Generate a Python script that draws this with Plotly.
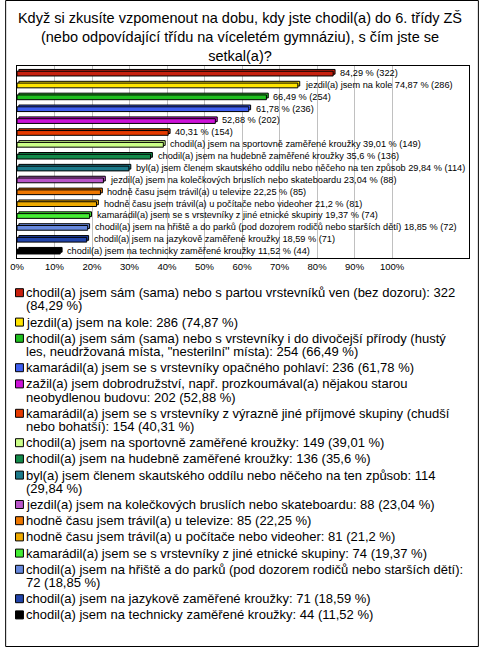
import plotly.graph_objects as go

# answers, in the order shown (top to bottom)
names = [
    "chodil(a) jsem sám (sama) nebo s partou vrstevníků ven (bez dozoru)",
    "jezdil(a) jsem na kole",
    "chodil(a) jsem sám (sama) nebo s vrstevníky i do divočejší přírody (hustý les, neudržovaná místa, \"nesterilní\" místa)",
    "kamarádil(a) jsem se s vrstevníky opačného pohlaví",
    "zažil(a) jsem dobrodružství, např. prozkoumával(a) nějakou starou neobydlenou budovu",
    "kamarádil(a) jsem se s vrstevníky z výrazně jiné příjmové skupiny (chudší nebo bohatší)",
    "chodil(a) jsem na sportovně zaměřené kroužky",
    "chodil(a) jsem na hudebně zaměřené kroužky",
    "byl(a) jsem členem skautského oddílu nebo něčeho na ten způsob",
    "jezdil(a) jsem na kolečkových bruslích nebo skateboardu",
    "hodně času jsem trávil(a) u televize",
    "hodně času jsem trávil(a) u počítače nebo videoher",
    "kamarádil(a) jsem se s vrstevníky z jiné etnické skupiny",
    "chodil(a) jsem na hřiště a do parků (pod dozorem rodičů nebo starších dětí)",
    "chodil(a) jsem na jazykově zaměřené kroužky",
    "chodil(a) jsem na technicky zaměřené kroužky",
]
counts = [322, 286, 254, 236, 202, 154, 149, 136, 114, 88, 85, 81, 74, 72, 71, 44]
percents = [84.29, 74.87, 66.49, 61.78, 52.88, 40.31, 39.01, 35.6, 29.84,
            23.04, 22.25, 21.2, 19.37, 18.85, 18.59, 11.52]
# whether the bar label repeats the answer text
label_has_name = [False, True, False, False, False, False, True, True, True,
                  True, True, True, True, True, True, True]
# where the legend text wraps onto a second line
legend_break = [
    "(84,29 %)", None, "les, ", None, "neobydlenou", "nebo bohatší", None, None,
    "(29,84 %)", None, None, None, None, "72 (18,85 %)", None, None,
]
colors = ["#C8200E", "#FFE400", "#1FBF1F", "#3F5FF0", "#CC12D8", "#E63A00",
          "#CCFF88", "#128A4A", "#1C7A8A", "#B855C8", "#EE7700", "#EEAA00",
          "#44EE33", "#6688DD", "#2244AA", "#000000"]

title = ("Když si zkusíte vzpomenout na dobu, kdy jste chodil(a) do 6. třídy ZŠ<br>"
         "(nebo odpovídající třídu na víceletém gymnáziu), s čím jste se<br>setkal(a)?")

W, H = 480, 647
ML, MR, MT, MB = 12, 10, 66, 389
FONT = "Liberation Sans, Arial, sans-serif"
pw = W - ML - MR
ph = H - MT - MB


def czpct(p):
    return f"{p:g}".replace(".", ",") + " %"


def px_x(px):
    return (px - ML) / pw


def px_y(py):
    return (H - MB - py) / ph


fig = go.Figure()
for i, (nm, c, p) in enumerate(zip(names, counts, percents)):
    # back face gives the flat 3D look of the original
    fig.add_trace(go.Bar(
        x=[p], y=[nm], orientation="h", base=0.5,
        marker=dict(color=colors[i], line=dict(color="#000000", width=1)),
        width=0.4, offset=-0.3, showlegend=False, hoverinfo="skip",
    ))
    fig.add_trace(go.Bar(
        x=[p], y=[nm], orientation="h",
        marker=dict(color=colors[i], line=dict(color="#000000", width=1)),
        width=0.4, offset=-0.15, showlegend=False, hoverinfo="skip",
    ))
    bar_txt = f"{czpct(p)} ({c})"
    if label_has_name[i]:
        bar_txt = f"{nm} {bar_txt}"
    fig.add_annotation(x=p, y=nm, xref="x", yref="y", text=bar_txt,
                       showarrow=False, xanchor="left", yanchor="middle",
                       xshift=5, font=dict(size=9.2, family=FONT, color="#000000"))

# legend drawn below the plot: coloured square + wrapped text
LINE, STEP = 13.2, 16.2
y_line = 292.7
for i, (nm, c, p) in enumerate(zip(names, counts, percents)):
    leg = f"{nm}: {c} ({czpct(p)})"
    brk = legend_break[i]
    lines = [leg]
    if brk:
        k = leg.index(brk)
        lines = [leg[:k].rstrip(), leg[k:]]
    fig.add_shape(type="rect", xref="paper", yref="paper",
                  x0=px_x(10.5), x1=px_x(18.5),
                  y0=px_y(y_line + 4), y1=px_y(y_line - 4),
                  fillcolor=colors[i], line=dict(color="#000000", width=1))
    for j, ln in enumerate(lines):
        fig.add_annotation(x=px_x(19.5), y=px_y(y_line + j * LINE),
                           xref="paper", yref="paper", text=ln,
                           showarrow=False, xanchor="left", yanchor="middle",
                           font=dict(size=13, family=FONT, color="#000000"))
    y_line += STEP + (len(lines) - 1) * LINE

# outer frame
fig.add_shape(type="rect", xref="paper", yref="paper",
              x0=px_x(0.5), x1=px_x(W - 0.5),
              y0=px_y(H - 0.5), y1=px_y(0.5),
              line=dict(color="#000000", width=1), layer="above")

fig.update_layout(
    width=W, height=H,
    barmode="overlay",
    margin=dict(l=ML, r=MR, t=MT, b=MB),
    paper_bgcolor="white", plot_bgcolor="white",
    font=dict(family=FONT, color="#000000"),
    title=dict(text=title, x=0.5, xanchor="center", xref="container",
               y=1 - 23 / H, yanchor="top", yref="container",
               font=dict(size=14.5, family=FONT, color="#000000")),
    xaxis=dict(range=[0, 120.5], tickvals=list(range(0, 101, 10)),
               ticktext=[f"{v}%" for v in range(0, 101, 10)],
               tickfont=dict(size=9.5), showgrid=True, gridcolor="#c0c0c0",
               gridwidth=1, zeroline=False, showline=True, linecolor="#000000",
               linewidth=1, mirror=True, ticks="", fixedrange=True),
    yaxis=dict(autorange="reversed", showticklabels=False, showgrid=False,
               showline=True, linecolor="#000000", linewidth=1, mirror=True,
               ticks="", fixedrange=True),
    showlegend=False,
)

fig.write_html("out.html", config={"displayModeBar": False},
               post_script="document.body.style.margin='0';")
